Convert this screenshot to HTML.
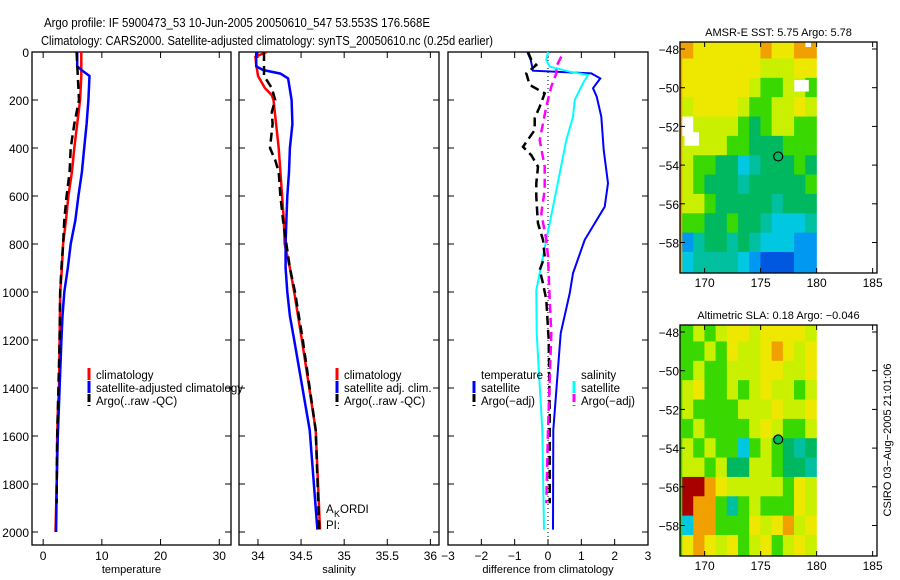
<!DOCTYPE html>
<html><head><meta charset="utf-8"><style>
body{margin:0;background:#fff;}
svg{display:block;font-family:"Liberation Sans",sans-serif;}
</style></head><body>
<svg id="fig" width="900" height="580" viewBox="0 0 900 580">
<text x="44" y="27" font-size="13" textLength="386" lengthAdjust="spacingAndGlyphs">Argo profile: IF 5900473_53 10-Jun-2005 20050610_547 53.553S 176.568E</text>
<text x="41" y="45" font-size="13" textLength="452" lengthAdjust="spacingAndGlyphs">Climatology: CARS2000. Satellite-adjusted climatology: synTS_20050610.nc (0.25d earlier)</text>
</svg>
<script>
// ---- data ----
const depthTicks=[0,200,400,600,800,1000,1200,1400,1600,1800,2000];
const tempTicks=[0,10,20,30];
const salTicks=[34,34.5,35,35.5,36];
const diffTicks=[-3,-2,-1,0,1,2,3];
const tClimD=[0,100,200,300,400,500,600,700,800,900,1000,1200,1400,1500,1600,1800,2000];
const tClimV=[6.5,6.5,6.3,5.8,5.3,4.9,4.3,3.9,3.4,3.2,2.9,2.8,2.7,2.5,2.4,2.3,2.1];
const tSatD=[0,60,80,100,200,300,400,500,600,700,800,900,1000,1100,1200,1400,1600,1800,2000];
const tSatV=[5.8,5.8,6.8,7.9,7.7,7.4,7.0,6.6,6.0,5.5,4.7,4.2,3.6,3.3,3.1,2.8,2.5,2.3,2.2];
const tArgoD=[0,100,200,300,400,500,600,700,800,900,1000,1200,1400,1600,1800,1880];
const tArgoV=[5.7,5.9,6.1,5.3,4.7,4.5,4.0,3.6,3.4,3.1,2.9,2.8,2.6,2.4,2.3,2.3];
const sClimD=[0,20,50,100,150,180,200,300,400,500,600,700,800,900,1000,1200,1575,1990];
const sClimV=[34.1,33.97,33.98,34.0,34.08,34.16,34.18,34.21,34.24,34.26,34.28,34.3,34.31,34.37,34.42,34.51,34.67,34.72];
const sSatD=[0,60,75,90,110,200,300,400,500,600,700,800,900,1000,1100,1200,1575,1990];
const sSatV=[33.98,33.98,34.06,34.26,34.35,34.39,34.4,34.37,34.36,34.34,34.33,34.32,34.32,34.34,34.37,34.42,34.6,34.69];
const sArgoD=[0,100,150,200,250,300,400,450,500,600,700,800,900,1000,1200,1575,1990];
const sArgoV=[34.07,34.07,34.16,34.2,34.16,34.17,34.14,34.2,34.24,34.26,34.29,34.33,34.37,34.43,34.52,34.67,34.71];
const dTSatD=[0,33,78,89,110,151,186,269,408,547,645,783,922,1006,1172,1575,1990];
const dTSatV=[-0.62,-0.52,-0.45,1.3,1.57,1.35,1.46,1.6,1.67,1.8,1.7,1.1,0.75,0.65,0.38,0.16,0.15];
const dTArgoD=[0,33,54,89,137,172,228,276,325,395,430,478,547,603,672,714,783,853,908,964,1033,1200,1500,1880];
const dTArgoV=[-0.6,-0.5,-0.35,-0.65,-0.55,-0.1,-0.25,-0.4,-0.4,-0.75,-0.5,-0.3,-0.35,-0.35,-0.32,-0.3,-0.15,-0.1,-0.25,-0.15,-0.05,0.02,0.05,0.05];
const dSSatD=[0,33,61,82,96,130,200,269,367,506,645,783,922,992,1172,1575,1990];
const dSSatV=[0.0,-0.05,0.05,0.65,1.2,1.05,0.8,0.75,0.55,0.35,0.15,-0.05,-0.25,-0.35,-0.34,-0.17,-0.12];
const dSArgoD=[19,61,89,144,228,367,478,575,672,783,853,1033,1172,1575,1880];
const dSArgoV=[0.4,0.25,0.25,0.1,-0.05,-0.25,-0.1,-0.1,-0.2,-0.05,0.0,0.05,0.1,0.0,-0.05];
const mapLonTicks=[170,175,180,185];
const mapLatTicks=[-48,-50,-52,-54,-56,-58];
const sstGrid=["oyyyyyyoyyoo","yyyyyyylllyy","yyyyyylggllg","lyyyylggllyl","wllllgGgllgg","llllggGGGggg","lggGGctGGGgG","lgGGGtGGGGGg","llgGGGGGtGGG","ggGGgGGtccct","btGGtGtcccbb","cttttcbBBBbb"];
const slaGrid=["glglyylyyyyl","gglgyllyoyly","glgglllyylly","lygglglyllg l".replace(' ',''),"lgggglllylly","glgggglylggl","lglggcglgGtG","llglGGllgGGt","rroylllllgylyl".slice(0,12),"roogtglgggyl","coogggylyoly","yoylyglyglyl"];
const sstWhite=[[168.2,-52.3,1.3,0.7],[178.0,-49.6,1.3,0.6],[179.0,-47.6,0.5,0.3]];
const argoLon=176.568, argoLat=-53.553;

const NS="http://www.w3.org/2000/svg";
const svg=document.getElementById('fig');
function el(tag,attrs,parent){const e=document.createElementNS(NS,tag);for(const k in attrs)e.setAttribute(k,attrs[k]);(parent||svg).appendChild(e);return e;}
function txt(x,y,s,size,anchor,parent){const t=el('text',{x:x,y:y,'font-size':size,'text-anchor':anchor||'start'},parent);t.textContent=s;return t;}
const Y0=52, Y1=545, yD=d=>52+d*0.24;
const panels=[
 {x0:32,x1:231,v0:-1.9,v1:32,ticks:tempTicks,label:'temperature',name:'temperature-panel'},
 {x0:239,x1:439,v0:33.78,v1:36.1,ticks:salTicks,label:'salinity',name:'salinity-panel'},
 {x0:448,x1:648,v0:-3,v1:3,ticks:diffTicks,label:'difference from climatology',name:'difference-panel'}];
panels.forEach((p,i)=>{
 p.sx=v=>p.x0+(v-p.v0)/(p.v1-p.v0)*(p.x1-p.x0);
 const g=el('g',{});
 
 
 p.g=g;
 const r=el('rect',{x:p.x0,y:Y0,width:p.x1-p.x0,height:Y1-Y0,fill:'none',stroke:'#000','stroke-width':1.3},g);
 
 
 p.ticks.forEach(t=>{const x=p.sx(t);
  el('line',{x1:x,x2:x,y1:Y1,y2:Y1-6,stroke:'#000'},g);el('line',{x1:x,x2:x,y1:Y0,y2:Y0+6,stroke:'#000'},g);
  const lb=txt(x,560,String(t).replace('-','\u2212'),12,'middle',g);
  
  });
 depthTicks.forEach(d=>{const y=yD(d);
  el('line',{x1:p.x0,x2:p.x0+6,y1:y,y2:y,stroke:'#000'},g);el('line',{x1:p.x1,x2:p.x1-6,y1:y,y2:y,stroke:'#000'},g);
  if(i==0){const lb=txt(29,y+5,String(d),12,'end',g);
   
   }});
 const al=txt((p.x0+p.x1)/2,573,p.label,11,'middle',g);
 
 
});
function series(p,D,V,color,dash,name,w){
 const pts=D.map((d,k)=>p.sx(V[k]).toFixed(1)+','+yD(d).toFixed(1)).join(' ');
 const l=el('polyline',{points:pts,fill:'none',stroke:color,'stroke-width':w||2.5,'stroke-dasharray':dash||'none'},p.g);
 
 
}
// zero line in diff panel
const zl=el('line',{x1:panels[2].sx(0),x2:panels[2].sx(0),y1:Y0,y2:Y1,stroke:'#000','stroke-dasharray':'1,3'},panels[2].g);


series(panels[0],tClimD,tClimV,'#f00',null,'temp-climatology-line');
series(panels[0],tSatD,tSatV,'#00f',null,'temp-satellite-line');
series(panels[0],tArgoD,tArgoV,'#000','9,5','temp-argo-line');
series(panels[1],sClimD,sClimV,'#f00',null,'sal-climatology-line');
series(panels[1],sSatD,sSatV,'#00f',null,'sal-satellite-line');
series(panels[1],sArgoD,sArgoV,'#000','9,5','sal-argo-line');
series(panels[2],dTSatD,dTSatV,'#00f',null,'diff-temp-satellite-line',2);
series(panels[2],dSSatD,dSSatV,'#0ff',null,'diff-sal-satellite-line',2);
series(panels[2],dTArgoD,dTArgoV,'#000','9,5','diff-temp-argo-line');
series(panels[2],dSArgoD,dSArgoV,'#f0f','9,5','diff-sal-argo-line');
function legend(x,y,color,label,dash,name){
 const g=el('g',{});
 
 
 el('line',{x1:x,x2:x,y1:y-11,y2:y+1,stroke:color,'stroke-width':3,'stroke-dasharray':dash?'8,3':'none'},g);
 if(label)txt(x+7,y,label,11.5,'start',g);
}
legend(89,379,'#f00','climatology',0,'legend-climatology');
legend(89,392,'#00f','satellite-adjusted climatology',0,'legend-satellite');
legend(89,405,'#000','Argo(..raw -QC)',1,'legend-argo');
legend(337,379,'#f00','climatology',0,'legend-sal-climatology');
legend(337,392,'#00f','satellite adj. clim.',0,'legend-sal-satellite');
legend(337,405,'#000','Argo(..raw -QC)',1,'legend-sal-argo');
let t=txt(481,379,'temperature',11.5);
legend(474,392,'#00f','satellite',0,'legend-temp-satellite');
legend(474,405,'#000','Argo(\u2212adj)',1,'legend-temp-argo');
t=txt(581,379,'salinity',11.5);
legend(574,392,'#0ff','satellite',0,'legend-sal-satellite-diff');
legend(574,405,'#f0f','Argo(\u2212adj)',1,'legend-sal-argo-diff');
t=txt(326,513,'A',11.5);
txt(334,517,'K',9);txt(340,513,'ORDI',11.5);
t=txt(326,529,'PI:',11.5);

// ---- maps ----
const colors={o:'#f0a000',y:'#eee800',l:'#c8f000',g:'#38d800',G:'#00b860',t:'#00c0a0',c:'#00c8e0',b:'#0098f0',B:'#0058e0',w:'#fff',r:'#a80000'};
function map(top,title,grid,whites,name,circleFill){
 const g=el('g',{});
 
 
 const x0=680,x1=877,y0=top,y1=top+231;
 const lx=lon=>x0+(lon-167.8)*11.2;
 const ly=lat=>y0+7+(-48-lat)*19.35;
 grid.forEach((row,ri)=>{for(let ci=0;ci<12;ci++){const ch=row[ci]||'l';
  const xa=lx(168+ci), xb=lx(169+ci);
  const ya=ri==0?y0:ly(-47.5-ri), yb=ri==11?y1:ly(-48.5-ri);
  el('rect',{x:xa-0.2,y:ya-0.2,width:xb-xa+0.4,height:yb-ya+0.4,fill:colors[ch]},g);}});
 el('rect',{x:x0,y:y0,width:lx(168)-x0,height:y1-y0,fill:colors[grid[0][0]]},g);
 whites.forEach(w=>el('rect',{x:lx(w[0]),y:ly(w[1]),width:w[2]*11.2,height:w[3]*19.35,fill:'#fff'},g));
 const c=el('circle',{cx:lx(argoLon),cy:ly(argoLat),r:4.5,fill:circleFill,stroke:'#000','stroke-width':1.2},g);
 
 
 el('rect',{x:x0,y:y0,width:x1-x0,height:y1-y0,fill:'none',stroke:'#000','stroke-width':1.3},g);
 mapLonTicks.forEach(lon=>{const x=lx(lon);el('line',{x1:x,x2:x,y1:y1,y2:y1-5,stroke:'#000'},g);el('line',{x1:x,x2:x,y1:y0,y2:y0+5,stroke:'#000'},g);
  const lb=txt(x,y1+14,String(lon),12,'middle',g);});
 mapLatTicks.forEach(lat=>{const y=ly(lat);el('line',{x1:x0,x2:x0+5,y1:y,y2:y,stroke:'#000'},g);el('line',{x1:x1,x2:x1-5,y1:y,y2:y,stroke:'#000'},g);
  const lb=txt(x0-1,y+5,String(lat).replace('-','\u2212'),12,'end',g);});
 const tt=txt((x0+x1)/2,top-6,title,11,'middle',g);
 
 
}
map(42,'AMSR-E SST: 5.75 Argo: 5.78',sstGrid,sstWhite,'sst-map','none');
map(325,'Altimetric SLA: 0.18 Argo: \u22120.046',slaGrid,[],'sla-map','#00b860');
t=txt(0,0,'CSIRO 03\u2212Aug\u22122005 21:01:06',11,'middle');
t.setAttribute('transform','translate(891,440) rotate(-90)');


</script>
</body></html>
